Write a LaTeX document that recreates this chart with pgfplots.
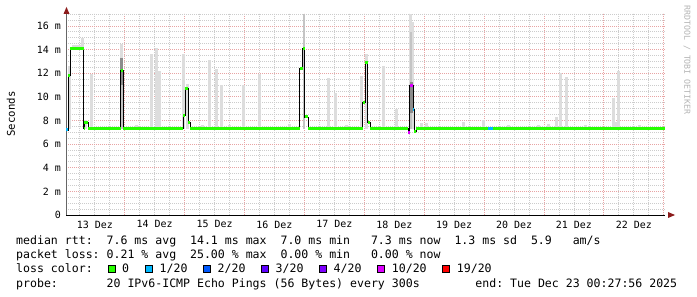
\documentclass[border=0pt]{standalone}
\usepackage{fontspec}
\setmainfont{DejaVu Sans Mono}
\usepackage{pgfplots}
\pgfplotsset{compat=1.18}
\definecolor{lc0}{HTML}{26FF00}
\definecolor{lc1}{HTML}{00B8FF}
\definecolor{lc2}{HTML}{0059FF}
\definecolor{lc3}{HTML}{5E00FF}
\definecolor{lc4}{HTML}{7E00FF}
\definecolor{lc10}{HTML}{DD00FF}
\definecolor{lc19}{HTML}{FF0000}
\definecolor{smoke}{HTML}{DDDDDD}
\definecolor{smokemid}{HTML}{C4C4C4}
\definecolor{smokedark}{HTML}{8C8C8C}
\definecolor{mgrid}{HTML}{E8A4A4}
\definecolor{ngrid}{HTML}{CCCCCC}
\definecolor{arrowred}{HTML}{8C1C1C}
\definecolor{wmark}{HTML}{B4B4B4}
\newcommand{\lfont}{\fontsize{11.6}{14}\selectfont}
\begin{document}
\begin{tikzpicture}
\useasboundingbox (0,0) rectangle (697bp,297bp);
\begin{axis}[
  at={(66bp,82bp)}, anchor=south west,
  scale only axis, width=599bp, height=202bp,
  xmin=13.0194, xmax=23.0194, ymin=0, ymax=17.1,
  axis x line*=bottom, axis y line*=left,
  x axis line style={black, line width=1bp},
  y axis line style={gray!80!black, line width=1bp},
  xtick={14,15,...,23}, xticklabels={},
  minor xtick={13.25,13.5,13.75,14.25,14.5,14.75,15.25,15.5,15.75,16.25,16.5,16.75,17.25,17.5,17.75,18.25,18.5,18.75,19.25,19.5,19.75,20.25,20.5,20.75,21.25,21.5,21.75,22.25,22.5,22.75},
  extra x ticks={13.5,14.5,15.5,16.5,17.5,18.5,19.5,20.5,21.5,22.5},
  extra x tick labels={13 Dez,14 Dez,15 Dez,16 Dez,17 Dez,18 Dez,19 Dez,20 Dez,21 Dez,22 Dez},
  extra x tick style={grid=none, major tick length=0pt},
  ytick={0,2,...,16}, yticklabels={0,2 m,4 m,6 m,8 m,10 m,12 m,14 m,16 m},
  minor ytick={0.5,1,1.5,2.5,3,3.5,4.5,5,5.5,6.5,7,7.5,8.5,9,9.5,10.5,11,11.5,12.5,13,13.5,14.5,15,15.5,16.5,17},
  grid=both,
  major grid style={mgrid, dash pattern=on 1bp off 1bp, line width=0.9bp},
  minor grid style={ngrid, dash pattern=on 1bp off 1bp, line width=0.9bp},
  major tick length=0pt, minor tick length=0pt,
  ticklabel style={font=\fontsize{10}{12}\selectfont, text=black},
  xticklabel style={anchor=north, inner sep=0pt, yshift=-5.5bp},
  yticklabel style={anchor=east, inner sep=0pt, xshift=-5bp},
]
% smoke (light)
\addplot[draw=none, mark=none, forget plot,
  error bars/.cd, y dir=plus, y explicit, error mark=none,
  error bar style={line width=3bp, smoke}] coordinates {
(13.083,7.3) +- (0,5.3)
(13.15,14.1) +- (0,0.3)
(13.2,14.1) +- (0,0.3)
(13.25,14.1) +- (0,0.3)
(13.29,14.1) +- (0,0.9)
(13.35,7.3) +- (0,0.7)
(13.45,7.3) +- (0,4.6)
(13.95,7.3) +- (0,7.2)
(14.2,7.3) +- (0,0.3)
(14.45,7.3) +- (0,6.3)
(14.53,7.3) +- (0,6.8)
(14.575,7.3) +- (0,4.9)
(14.983,7.3) +- (0,6.3)
(15.042,7.3) +- (0,3.8)
(15.3,7.3) +- (0,0.3)
(15.417,7.3) +- (0,5.8)
(15.525,7.3) +- (0,5.1)
(15.617,7.3) +- (0,3.7)
(15.75,7.3) +- (0,0.3)
(15.983,7.3) +- (0,3.7)
(16.242,7.3) +- (0,4.6)
(16.75,7.3) +- (0,0.4)
(17.408,7.3) +- (0,4.3)
(17.517,7.3) +- (0,3.0)
(17.7,7.3) +- (0,0.3)
(17.95,7.3) +- (0,4.5)
(18.033,7.3) +- (0,6.3)
(18.325,7.3) +- (0,5.3)
(18.533,7.3) +- (0,1.7)
(18.767,7.3) +- (0,9.7)
(18.8,7.3) +- (0,9.0)
(18.95,7.3) +- (0,0.5)
(19.03,7.3) +- (0,0.5)
(19.65,7.3) +- (0,0.6)
(19.983,7.3) +- (0,0.7)
(20.4,7.3) +- (0,0.3)
(20.9,7.3) +- (0,0.3)
(21.07,7.3) +- (0,0.4)
(21.2,7.3) +- (0,1.0)
(21.275,7.3) +- (0,4.7)
(21.367,7.3) +- (0,4.4)
(21.7,7.3) +- (0,0.3)
(22.167,7.3) +- (0,2.6)
(22.19,7.3) +- (0,0.6)
(22.242,7.3) +- (0,4.9)
(22.6,7.3) +- (0,0.3)
};
% smoke (mid)
\addplot[draw=none, mark=none, forget plot,
  error bars/.cd, y dir=plus, y explicit, error mark=none,
  error bar style={line width=2bp, smokemid}] coordinates {
(16.992,7.3) +- (0,9.7)
(18.772,7.3) +- (0,8.2)
(13.95,7.3) +- (0,5.0)
};
% smoke (dark)
\addplot[draw=none, mark=none, forget plot,
  error bars/.cd, y dir=plus, y explicit, error mark=none,
  error bar style={line width=2.5bp, smokedark}] coordinates {
(13.95,11.0) +- (0,2.3)
(18.785,8.6) +- (0,2.7)
};
% median: black connector
\addplot[const plot mark left, black, line width=0.8bp, mark=none] coordinates {
(13.0194,7.2) (13.058,11.8) (13.092,14.1) (13.312,7.3) (13.325,7.8) (13.392,7.3)
(13.933,12.2) (13.978,7.3) (14.978,8.4) (15.005,10.7) (15.055,7.8) (15.095,7.3)
(16.922,12.4) (16.972,14.1) (17.005,8.3) (17.062,7.3) (17.972,9.5) (18.012,12.9)
(18.055,7.8) (18.095,7.3) (18.728,7.0) (18.755,11.0) (18.812,8.9) (18.833,7.1)
(18.867,7.3) (23.0194,7.3)
};
% median: loss colour 0
\addplot[jump mark left, lc0, line width=3bp, mark=none] coordinates {
(13.0194,7.2) (13.058,11.8) (13.092,14.1) (13.312,7.3) (13.325,7.8) (13.392,7.3)
(13.933,12.2) (13.978,7.3) (14.978,8.4) (15.005,10.7) (15.055,7.8) (15.095,7.3)
(16.922,12.4) (16.972,14.1) (17.005,8.3) (17.062,7.3) (17.972,9.5) (18.012,12.9)
(18.055,7.8) (18.095,7.3) (18.728,7.0) (18.755,11.0) (18.812,8.9) (18.833,7.1)
(18.867,7.3) (23.0194,7.3)
};
% loss 1/20
\addplot[jump mark left, lc1, line width=3bp, mark=none] coordinates {(13.0194,7.2) (13.045,7.2)};
\addplot[jump mark left, lc1, line width=3bp, mark=none] coordinates {(18.812,8.9) (18.833,8.9)};
\addplot[jump mark left, lc1, line width=3bp, mark=none] coordinates {(20.062,7.3) (20.156,7.3)};
% loss 10/20
\addplot[jump mark left, lc10, line width=3bp, mark=none] coordinates {(18.728,7.0) (18.755,7.0)};
\addplot[jump mark left, lc10, line width=3bp, mark=none] coordinates {(18.755,11.0) (18.812,11.0)};
\end{axis}
% axis arrows
\fill[arrowred] (63.5bp,283bp) -- (69.5bp,283bp) -- (66.5bp,290bp) -- cycle;
\fill[arrowred] (668bp,79bp) -- (668bp,85bp) -- (675bp,82bp) -- cycle;
% unit label
\node[rotate=90, font=\fontsize{10.7}{12}\selectfont, inner sep=0pt] at (11bp,183bp) {Seconds};
% watermark
\node[rotate=-90, font=\fontsize{8.3}{10}\selectfont, text=wmark, inner sep=0pt] at (687bp,237bp) {RRDTOOL / TOBI OETIKER};
% legend text
\node[anchor=base west, inner sep=0pt, font=\lfont] at (16bp,52.5bp) {median~rtt:~~7.6~ms~avg~~14.1~ms~max~~7.0~ms~min~~~7.3~ms~now~~1.3~ms~sd~~5.9~~~am/s};
\node[anchor=base west, inner sep=0pt, font=\lfont] at (16bp,38.5bp) {packet~loss:~0.21~\%~avg~~25.00~\%~max~~0.00~\%~min~~~0.00~\%~now};
\node[anchor=base west, inner sep=0pt, font=\lfont] at (16bp,24.5bp) {loss~color:};
\foreach \c/\bx/\lab in {lc0/108/0, lc1/145.5/1\slash 20, lc2/203.5/2\slash 20, lc3/261.5/3\slash 20, lc4/319.5/4\slash 20, lc10/377.7/10\slash 20, lc19/442.7/19\slash 20}{
  \filldraw[fill=\c, draw=black, line width=0.8bp] (\bx bp,24.3bp) rectangle ++(7bp,7bp);
  \node[anchor=base west, inner sep=0pt, font=\lfont] at (\bx bp+14bp,24.5bp) {\lab};
}
\node[anchor=base west, inner sep=0pt, font=\lfont] at (16bp,10bp) {probe:~~~~~~~20~IPv6-ICMP~Echo~Pings~(56~Bytes)~every~300s~~~~~~~~end:~Tue~Dec~23~00:27:56~2025};
\end{tikzpicture}
\end{document}
